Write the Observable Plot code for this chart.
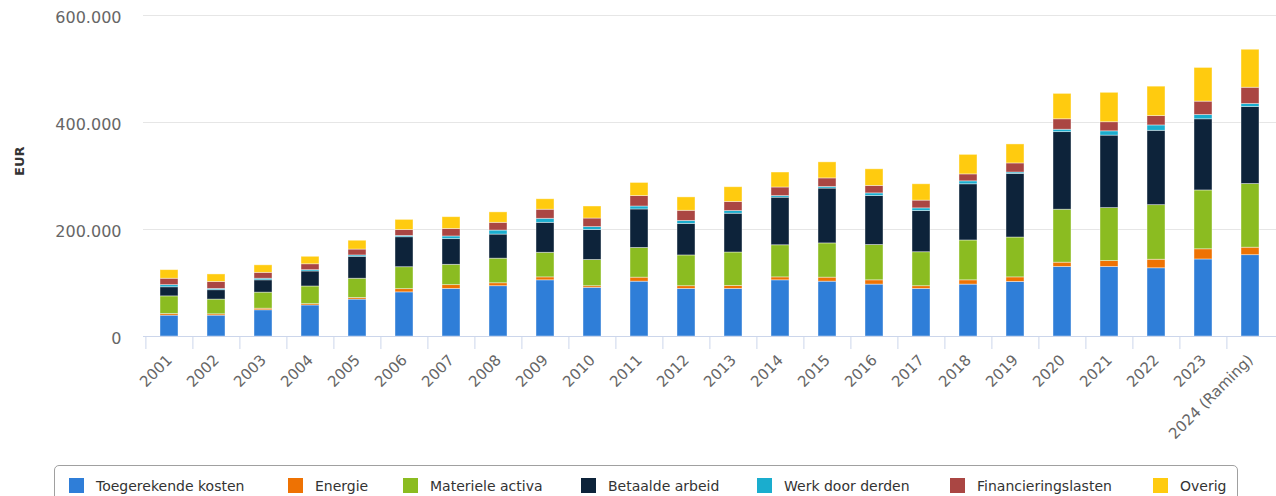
<!DOCTYPE html>
<html>
<head>
<meta charset="utf-8">
<script src="https://cdn.jsdelivr.net/npm/d3@7"></script>
<script src="https://cdn.jsdelivr.net/npm/@observablehq/plot@0.6"></script>
<style>
  html, body { margin: 0; padding: 0; background: #fff; }
  body { width: 1276px; height: 496px; overflow: hidden; font-family: "DejaVu Sans", Verdana, sans-serif; }
  #wrap { position: relative; width: 1276px; height: 496px; }
  #legendbox {
    position: absolute; left: 54px; top: 465px; width: 1184px; height: 48px;
    border: 1px solid #a0a0a0; border-radius: 5px; box-sizing: border-box;
  }
  .item { position: absolute; top: 478px; height: 15px; display: flex; align-items: center;
    white-space: nowrap; font-size: 14px; color: #333; }
  .sw { width: 15px; height: 15px; margin-right: 12px; flex: none; }
</style>
</head>
<body>
<div id="wrap">
  <div id="chart"></div>
  <div id="legendbox"></div>
</div>
<script>
const years = ["2001","2002","2003","2004","2005","2006","2007","2008","2009","2010","2011","2012",
  "2013","2014","2015","2016","2017","2018","2019","2020","2021","2022","2023","2024 (Raming)"];

const seriesNames = ["Toegerekende kosten","Energie","Materiele activa","Betaalde arbeid",
  "Werk door derden","Financieringslasten","Overig"];
const seriesColors = ["#2f7ed8","#ee7203","#8bbc21","#0d233a","#1aadce","#aa4643","#ffcb0f"];

const toegerekendeKosten = [39000,39000,49000,58000,69000,82500,89000,94000,105000,91000,102500,89000,
  89000,105000,102500,97000,89000,97000,102000,130000,130000,127500,144000,152000];
const energie = [3000,2500,3000,2500,3000,6000,7000,5500,5500,3000,7500,5000,
  5500,5500,7500,8000,5000,8000,8500,8000,11000,16000,19000,14000];
const materieleActiva = [33000,27500,30000,33000,36000,41000,38000,46000,46000,49000,55500,57500,
  62500,60000,64000,66000,63500,74500,74500,99000,99000,102000,110000,119000];
const betaaldeArbeid = [17000,17500,23000,28000,41000,56000,48000,45000,56000,56000,72000,59000,
  72500,89000,102500,91500,77000,105000,119000,145000,135500,139000,133000,144000];
const werkDoorDerden = [4000,2500,3000,2500,2500,2500,5000,7500,7500,5500,5500,5500,
  5000,3000,3000,5000,5000,5500,2500,4500,8000,10000,8000,5500];
const financieringslasten = [12000,13000,11000,11000,11000,11000,14000,14500,17000,16000,19500,19000,
  17000,16000,16000,14000,14500,13000,17000,19500,17000,17500,25000,30500];
const overig = [16000,14000,14000,14000,16500,19000,22000,19500,19500,22500,24500,25000,
  27500,28000,30000,31000,30500,36500,35500,47500,55000,55000,63000,71000];

const yTicks = [0, 200000, 400000, 600000];

const seriesValues = [toegerekendeKosten, energie, materieleActiva, betaaldeArbeid,
  werkDoorDerden, financieringslasten, overig];

const data = [];
seriesNames.forEach((s, si) => {
  years.forEach((y, yi) => data.push({year: y, series: s, value: seriesValues[si][yi]}));
});

const nl = d3.formatLocale({decimal: ",", thousands: ".", grouping: [3], currency: ["€", ""]});
const fmt = nl.format(",");

const width = 1276, height = 456, marginLeft = 143, marginRight = 0, marginTop = 15, marginBottom = 120;
const step = (width - marginLeft - marginRight) / years.length;

const chart = Plot.plot({
  width, height, marginLeft, marginRight, marginTop, marginBottom,
  style: {fontFamily: "DejaVu Sans, Verdana, sans-serif", background: "#fff"},
  x: {type: "band", domain: years, paddingInner: 0.62, paddingOuter: 0.31, axis: null},
  y: {domain: [0, 600000], axis: null},
  color: {domain: seriesNames, range: seriesColors},
  marks: [
    Plot.ruleY(yTicks.filter(d => d > 0), {stroke: "#e6e6e6", strokeWidth: 1}),
    Plot.barY(data, {x: "year", y: "value", fill: "series", order: seriesNames,
      stroke: "#ffffff", strokeOpacity: 0.5, strokeWidth: 0.8}),
    Plot.ruleY([0], {stroke: "#ccd6eb", strokeWidth: 1}),
    Plot.ruleX(years, {x: d => d, y1: 0, y2: 0, dx: -step / 2, insetBottom: -13, stroke: "#ccd6eb"}),
    Plot.axisY({ticks: yTicks, tickSize: 0, tickPadding: 22, tickFormat: fmt, fontSize: 16,
      fill: "#666666", label: null, dy: 2}),
    Plot.axisX({tickSize: 0, tickRotate: -45, tickPadding: 21, fontSize: 15, fill: "#666666", label: null}),
    Plot.text(["EUR"], {frameAnchor: "left", dx: 19 - marginLeft, rotate: -90, fontSize: 13,
      fontWeight: "bold", fill: "#333333"})
  ]
});
document.getElementById("chart").appendChild(chart);

// legend item positions (left edge of swatch, px)
const legendLeft = [69, 288, 403, 581, 757, 950, 1153];
const wrap = document.getElementById("wrap");
seriesNames.forEach((s, i) => {
  const it = document.createElement("div");
  it.className = "item";
  it.style.left = legendLeft[i] + "px";
  const sw = document.createElement("div");
  sw.className = "sw";
  sw.style.background = seriesColors[i];
  const t = document.createElement("span");
  t.textContent = s;
  it.appendChild(sw); it.appendChild(t);
  wrap.appendChild(it);
});
</script>
</body>
</html>
